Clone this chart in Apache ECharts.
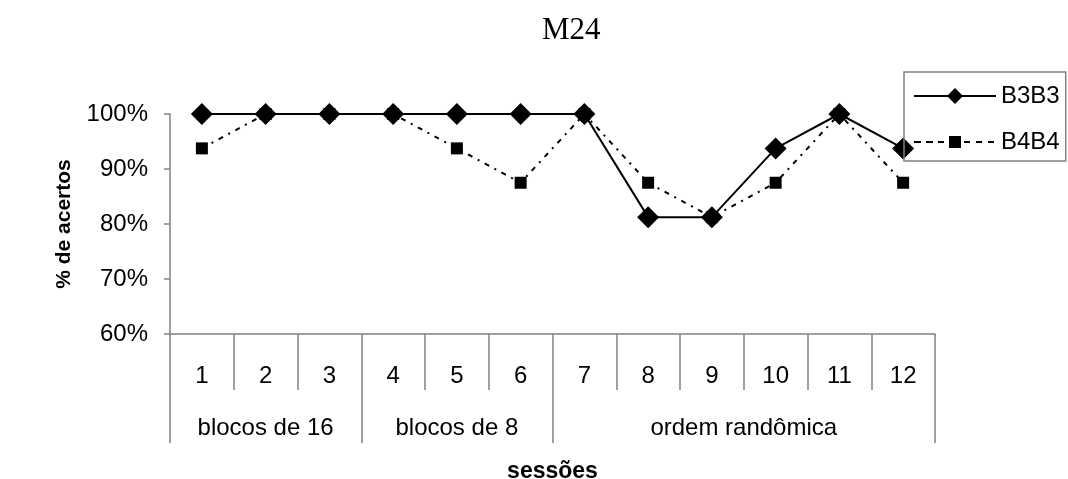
<!DOCTYPE html>
<html>
<head>
<meta charset="utf-8">
<script src="https://cdn.jsdelivr.net/npm/echarts@6/dist/echarts.min.js"></script>
<style>
html,body{margin:0;padding:0;background:#fff;}
#chart{width:1068px;height:479px;}
</style>
</head>
<body>
<div id="chart"></div>
<script>
const sessions = ['1','2','3','4','5','6','7','8','9','10','11','12'];
const groupNames = ['blocos de 16','blocos de 8','ordem randômica'];
const groupBounds = [0, 3, 6, 12];
const groupCenters = [1.5, 4.5, 9];
const b3b3 = [100, 100, 100, 100, 100, 100, 100, 81.25, 81.25, 93.75, 100, 93.75];
const b4b4 = [93.75, 100, 100, 100, 93.75, 87.5, 100, 87.5, 81.25, 87.5, 100, 87.5];
const yTicks = [60, 70, 80, 90, 100];

const FONT = "'Liberation Sans', Arial, sans-serif";
const GREY = '#808080';

// legend icon for the dashed series: dashes + small square (82 x 20 box)
const B4B4_ICON = 'path://M0 0h0.01v0.01h-0.01Z M82 19.99h0.01v0.01h-0.01Z ' +
  'M0 9h7v2h-7Z M12 9h7v2h-7Z M24 9h6v2h-6Z M35 4h12v12h-12Z ' +
  'M50 9h6v2h-6Z M62 9h6v2h-6Z M74 9h6v2h-6Z';

const chart = echarts.init(document.getElementById('chart'));
chart.setOption({
  animation: false,
  backgroundColor: '#fff',
  title: {
    text: 'M24',
    left: 537,
    top: 10,
    textStyle: {fontFamily: "'Liberation Serif', 'Times New Roman', serif", fontSize: 31, fontWeight: 'normal', color: '#000'}
  },
  legend: {
    orient: 'vertical',
    left: 904,
    top: 72,
    padding: [12, 6, 7, 9],
    itemWidth: 82,
    itemHeight: 20,
    itemGap: 22,
    borderColor: GREY,
    borderWidth: 1.5,
    textStyle: {fontFamily: FONT, fontSize: 24, color: '#000'},
    data: [
      {name: 'B3B3'},
      {name: 'B4B4', icon: B4B4_ICON, itemStyle: {color: '#000'}}
    ]
  },
  grid: {left: 170, right: 133, top: 114, bottom: 145, outerBoundsMode: 'none', containLabel: false},
  xAxis: [
    {
      type: 'category',
      data: sessions,
      boundaryGap: true,
      position: 'bottom',
      axisLine: {show: true, lineStyle: {color: GREY, width: 1.5}},
      axisTick: {show: true, interval: 0, alignWithLabel: false, length: 56, lineStyle: {color: GREY, width: 1.5}},
      axisLabel: {show: true, interval: 0, margin: 30, fontFamily: FONT, fontSize: 24, color: '#000', lineHeight: 24},
      splitLine: {show: false}
    },
    {
      type: 'value',
      min: 0,
      max: 12,
      position: 'bottom',
      offset: 56,
      axisLine: {show: false},
      axisTick: {show: true, customValues: groupBounds, length: 53, lineStyle: {color: GREY, width: 1.5}},
      axisLabel: {
        show: true,
        customValues: groupCenters,
        margin: 26,
        fontFamily: FONT, fontSize: 24, color: '#000', lineHeight: 24,
        formatter: function (v) { return groupNames[groupCenters.indexOf(v)] || ''; }
      },
      splitLine: {show: false},
      name: 'sessões',
      nameLocation: 'middle',
      nameGap: 70,
      nameTextStyle: {fontFamily: FONT, fontSize: 23, fontWeight: 'bold', color: '#000'}
    }
  ],
  yAxis: {
    type: 'value',
    min: yTicks[0],
    max: yTicks[yTicks.length - 1],
    interval: 10,
    axisLine: {show: true, lineStyle: {color: GREY, width: 1.5}},
    axisTick: {show: true, length: 6, lineStyle: {color: GREY, width: 1.5}},
    axisLabel: {margin: 22, fontFamily: FONT, fontSize: 24, color: '#000', formatter: '{value}%'},
    splitLine: {show: false},
    name: '% de acertos',
    nameLocation: 'middle',
    nameRotate: 90,
    nameGap: 95,
    nameTextStyle: {fontFamily: FONT, fontSize: 21, fontWeight: 'bold', color: '#000'}
  },
  series: [
    {
      name: 'B3B3',
      type: 'line',
      data: b3b3,
      z: 3,
      symbol: 'diamond',
      symbolSize: 22,
      lineStyle: {color: '#000', width: 2, type: 'solid'},
      itemStyle: {color: '#000'}
    },
    {
      name: 'B4B4',
      type: 'line',
      data: b4b4,
      z: 2,
      symbol: 'rect',
      symbolSize: 12,
      lineStyle: {color: '#000', width: 2, type: [5, 6, 2, 6]},
      itemStyle: {color: '#000'}
    }
  ]
});
</script>
</body>
</html>
